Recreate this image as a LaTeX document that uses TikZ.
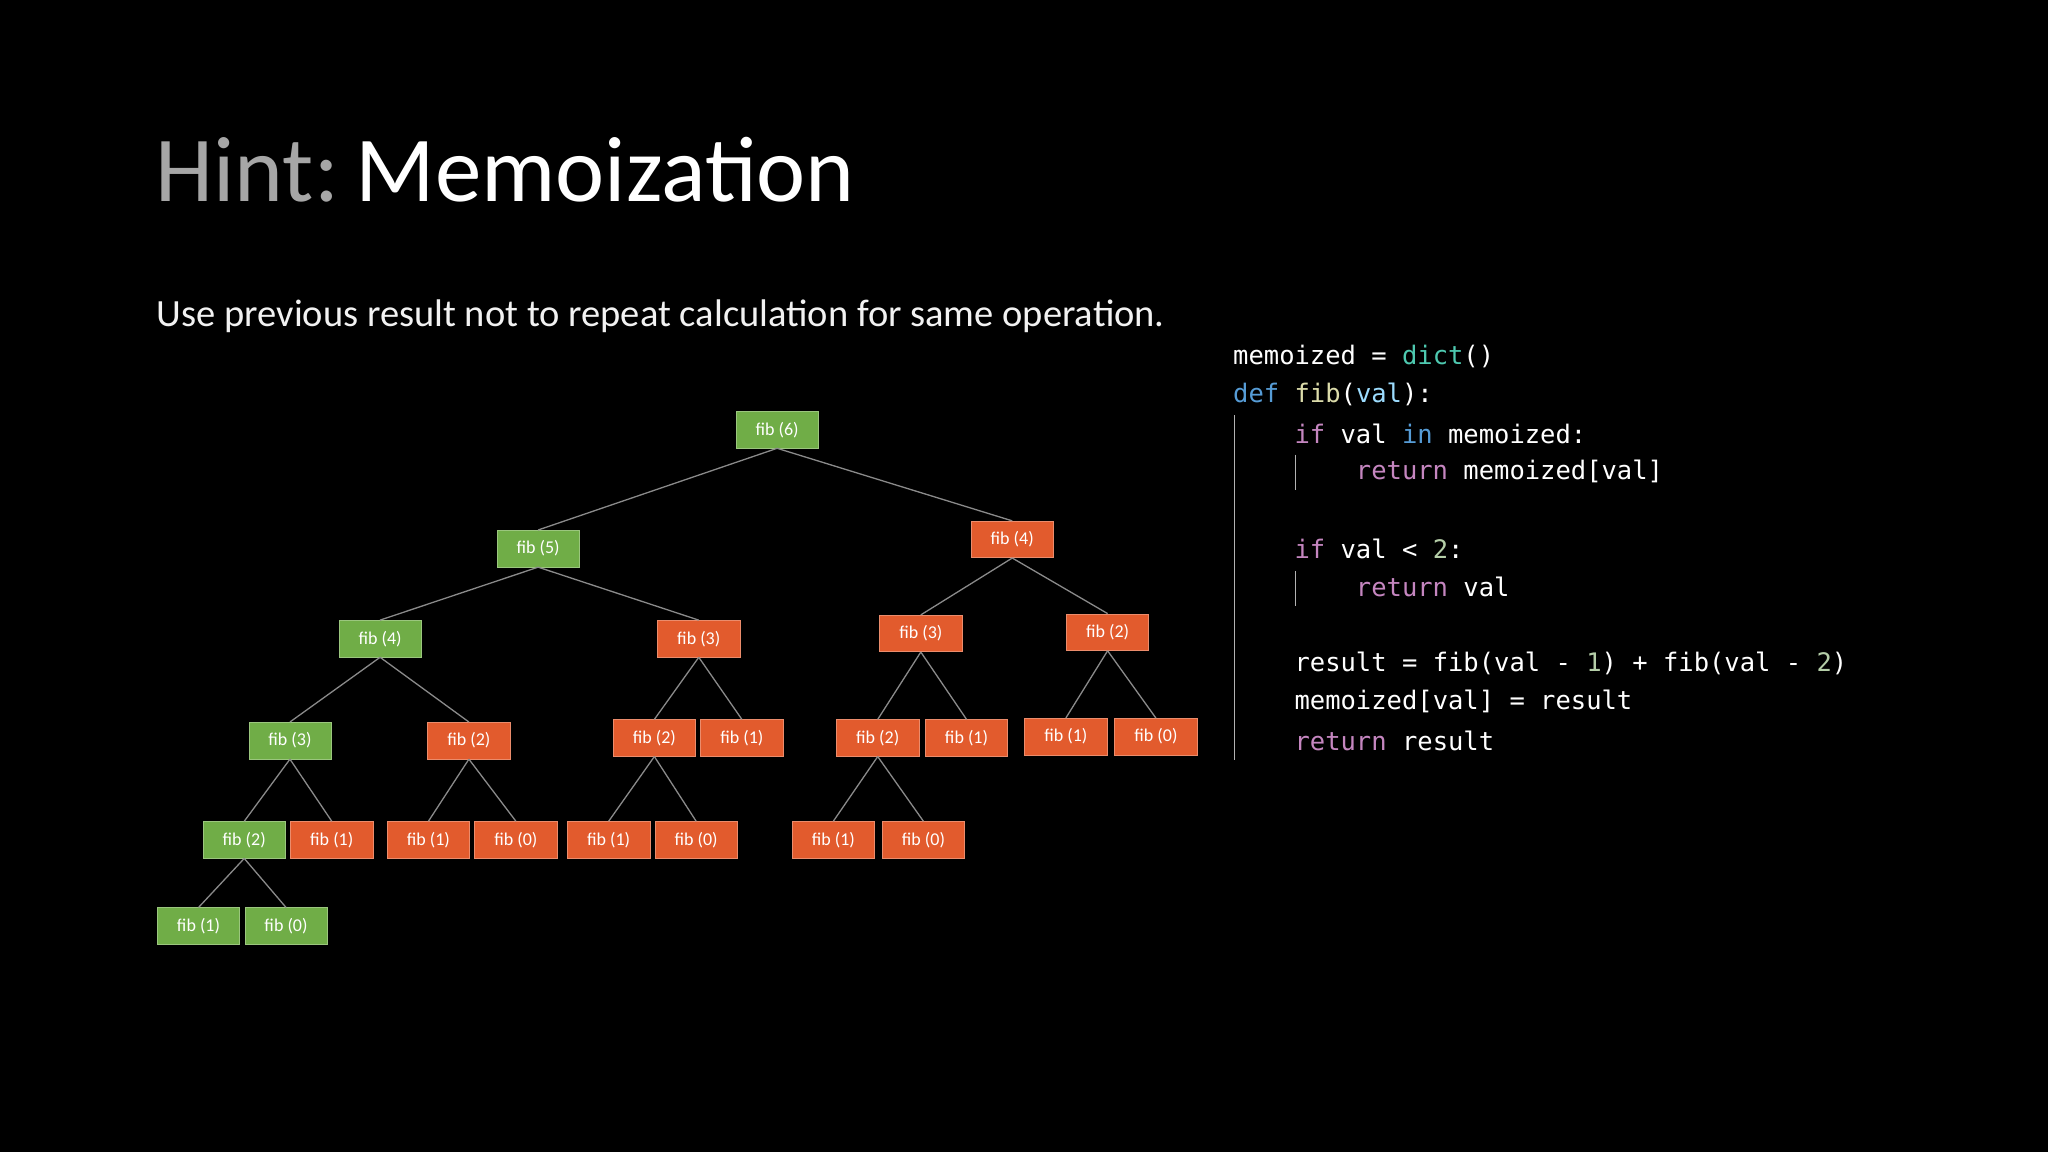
\documentclass[tikz,border=0pt]{standalone}
\usepackage{fontspec}
\setmainfont{Carlito}
\newfontfamily\codefont{DejaVu Sans Mono}
\definecolor{gfill}{HTML}{70AD47}
\definecolor{rfill}{HTML}{E25B2D}
\definecolor{edgec}{HTML}{8A8A8A}
\definecolor{kwblue}{HTML}{569CD6}
\definecolor{fnyel}{HTML}{DCDCAA}
\definecolor{varblue}{HTML}{9CDCFE}
\definecolor{kwpur}{HTML}{C586C0}
\definecolor{teal}{HTML}{4EC9B0}
\definecolor{numc}{HTML}{B5CEA8}
\definecolor{hintgray}{HTML}{A6A6A6}
\tikzset{
 fnode/.style={minimum width=63pt*1.306,minimum height=28pt*1.306,inner sep=0pt,text=white,font=\fontsize{18}{18}\selectfont},
 gn/.style={fnode,fill=gfill,draw=gfill!70!white,line width=0.6pt},
 rn/.style={fnode,fill=rfill,draw=rfill!70!white,line width=0.6pt},
 ed/.style={draw=edgec,line width=1.3pt},
 codeline/.style={anchor=west,inner sep=0pt,text=white,font=\codefont\fontsize{25.5}{25.5}\selectfont},
 guide/.style={draw=gray!60,line width=1pt}
}
\begin{document}
\begin{tikzpicture}[x=1.306pt,y=-1.306pt]
\fill[black] (0,0) rectangle (1568,882);
\useasboundingbox (0,0) rectangle (1568,882);
\node[anchor=west,inner sep=0pt,font=\fontsize{93}{93}\selectfont] (title) at (119,130) {\textcolor{hintgray}{Hint:}\hspace{0.18em}\textcolor{white}{Memoization}};
\node[anchor=west,inner sep=0pt,text=white!90!gray,font=\fontsize{38.5}{38.5}\selectfont] (sub) at (120,242) {Use previous result not to repeat calculation for same operation.};
% tree
\node[gn] (n6) at (595,329) {fib (6)};
\node[gn] (n5) at (412,420) {fib (5)};
\node[rn] (n4r) at (775,413) {fib (4)};
\node[gn] (n4) at (291,489) {fib (4)};
\node[rn] (n3a) at (535,489) {fib (3)};
\node[rn] (n3b) at (705,485) {fib (3)};
\node[rn] (n2c) at (848,484) {fib (2)};
\node[gn] (n3) at (222,567) {fib (3)};
\node[rn] (n2a) at (359,567) {fib (2)};
\node[rn] (a2) at (501,565) {fib (2)};
\node[rn] (a1) at (568,565) {fib (1)};
\node[rn] (b2) at (672,565) {fib (2)};
\node[rn] (b1) at (740,565) {fib (1)};
\node[rn] (c1) at (816,564) {fib (1)};
\node[rn] (c0) at (885,564) {fib (0)};
\node[gn] (g2) at (187,643) {fib (2)};
\node[rn] (g1) at (254,643) {fib (1)};
\node[rn] (h1) at (328,643) {fib (1)};
\node[rn] (h0) at (395,643) {fib (0)};
\node[rn] (i1) at (466,643) {fib (1)};
\node[rn] (i0) at (533,643) {fib (0)};
\node[rn] (j1) at (638,643) {fib (1)};
\node[rn] (j0) at (707,643) {fib (0)};
\node[gn] (k1) at (152,709) {fib (1)};
\node[gn] (k0) at (219,709) {fib (0)};
\foreach \p/\c in {n6/n5,n6/n4r,n5/n4,n5/n3a,n4r/n3b,n4r/n2c,n4/n3,n4/n2a,n3a/a2,n3a/a1,n3b/b2,n3b/b1,n2c/c1,n2c/c0,n3/g2,n3/g1,n2a/h1,n2a/h0,a2/i1,a2/i0,b2/j1,b2/j0,g2/k1,g2/k0}
  \draw[ed] (\p.south) -- (\c.north);
% code
\coordinate (gA) at (945,318); \coordinate (gB) at (945,582);
\draw[guide] (gA) -- (gB);
\coordinate (gC) at (992,348); \coordinate (gD) at (992,375);
\draw[guide] (gC) -- (gD);
\coordinate (gE) at (992,437); \coordinate (gF) at (992,464);
\draw[guide] (gE) -- (gF);
\node[codeline] (l1) at (944,273) {memoized = \textcolor{teal}{dict}()};
\node[codeline] (l2) at (944,302) {\textcolor{kwblue}{def} \textcolor{fnyel}{fib}(\textcolor{varblue}{val}):};
\node[codeline] (l3) at (991,332) {\textcolor{kwpur}{if} val \textcolor{kwblue}{in} memoized:};
\node[codeline] (l4) at (1038,361) {\textcolor{kwpur}{return} memoized[val]};
\node[codeline] (l5) at (991,420) {\textcolor{kwpur}{if} val < \textcolor{numc}{2}:};
\node[codeline] (l6) at (1038,449) {\textcolor{kwpur}{return} val};
\node[codeline] (l7) at (991,508) {result = fib(val - \textcolor{numc}{1}) + fib(val - \textcolor{numc}{2})};
\node[codeline] (l8) at (991,537) {memoized[val] = result};
\node[codeline] (l9) at (991,567) {\textcolor{kwpur}{return} result};
\end{tikzpicture}
\end{document}
